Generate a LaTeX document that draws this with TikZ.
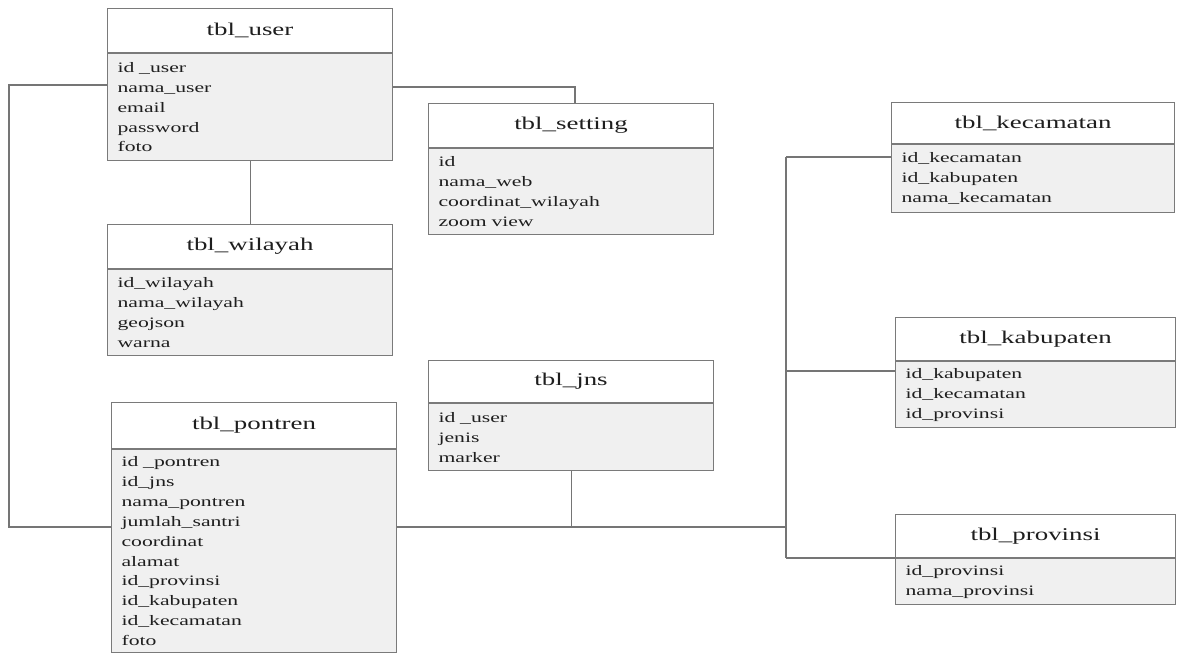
\documentclass[tikz,border=0pt]{standalone}
\usepackage{fontspec}
\setmainfont[FakeStretch=1.5]{Liberation Serif}
\definecolor{bodyfill}{HTML}{F0F0F0}
\definecolor{edgecol}{HTML}{7A7A7A}
\definecolor{linecol}{HTML}{757575}
\definecolor{txtcol}{HTML}{1E1E1E}
\tikzset{
  ttl/.style={draw=edgecol, line width=1.1bp, fill=white, inner sep=0pt, text=txtcol,
              font=\fontsize{18}{20}\selectfont},
  bdy/.style={draw=edgecol, line width=1.1bp, fill=bodyfill, inner xsep=10bp, inner ysep=0pt,
              align=left, text=txtcol, font=\fontsize{14.5}{20}\selectfont},
  conn/.style={draw=linecol, line width=1.1bp}
}
% #1 name, #2 left, #3 top, #4 width, #5 title height, #6 body height, #7 title, #8 fields
\newcommand\erdtable[8]{%
  \pgfmathsetmacro\erdtw{#4-20}%
  \node[ttl, minimum width=#4bp, minimum height=#5bp, anchor=north west] (#1t) at (#2,#3) {#7};
  \node[bdy, minimum width=#4bp, minimum height=#6bp, text width=\erdtw bp, anchor=north] (#1b) at (#1t.south) {#8};
}
\begin{document}
\begin{tikzpicture}[x=1bp,y=-1bp]
\useasboundingbox (0,0) rectangle (1177,653);
\fill[white] (0,0) rectangle (1177,653);

\coordinate (c1) at (9,85);
\coordinate (c2) at (9,527);
\coordinate (c3) at (575,87);
\coordinate (bt) at (786,157);
\coordinate (bm) at (786,371);
\coordinate (bb) at (786,558);
\coordinate (bj) at (786,527);

\erdtable{user}{107}{8}{285}{44}{107}{tbl\_user}{id \_user\\nama\_user\\email\\password\\foto}
\erdtable{setting}{428}{103}{285}{44}{86}{tbl\_setting}{id\\nama\_web\\coordinat\_wilayah\\zoom view}
\erdtable{wilayah}{107}{224}{285}{44}{86}{tbl\_wilayah}{id\_wilayah\\nama\_wilayah\\geojson\\warna}
\erdtable{pontren}{111}{402}{285}{46}{203}{tbl\_pontren}{id \_pontren\\id\_jns\\nama\_pontren\\jumlah\_santri\\coordinat\\alamat\\id\_provinsi\\id\_kabupaten\\id\_kecamatan\\foto}
\erdtable{jns}{428}{360}{285}{42}{67}{tbl\_jns}{id \_user\\jenis\\marker}
\erdtable{kecamatan}{891}{102}{283}{41}{68}{tbl\_kecamatan}{id\_kecamatan\\id\_kabupaten\\nama\_kecamatan}
\erdtable{kabupaten}{895}{317}{280}{43}{66}{tbl\_kabupaten}{id\_kabupaten\\id\_kecamatan\\id\_provinsi}
\erdtable{provinsi}{895}{514}{280}{43}{46}{tbl\_provinsi}{id\_provinsi\\nama\_provinsi}

\draw[conn] (userb.west |- c1) -- (c1) -- (c2) -- (pontrenb.west |- c2);
\draw[conn] (userb.east |- c3) -- (c3) -- (settingt.north -| c3);
\draw[conn] (userb.south) -- (wilayaht.north);
\draw[conn] (pontrenb.east |- bj) -- (bj);
\draw[conn] (jnsb.south) -- (jnsb.south |- bj);
\draw[conn] (bt) -- (bb);
\draw[conn] (bt) -- (kecamatanb.west |- bt);
\draw[conn] (bm) -- (kabupatenb.west |- bm);
\draw[conn] (bb) -- (provinsib.west |- bb);
\end{tikzpicture}
\end{document}
